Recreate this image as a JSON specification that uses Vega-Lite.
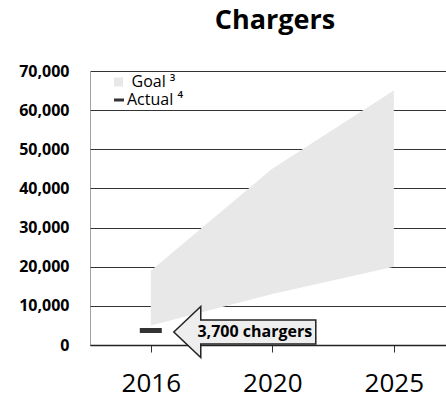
{
  "$schema": "https://vega.github.io/schema/vega-lite/v6.json",
  "autosize": {"type": "none"},
  "padding": {"left": 90, "top": 71, "right": 0, "bottom": 58},
  "width": 356,
  "height": 274,
  "title": {"text": "Chargers", "fontSize": 27, "fontWeight": "bold", "font": "Open Sans", "color": "#000", "anchor": "middle", "dx": 7, "offset": 28},
  "datasets": {
    "goal": [
      {"year": 2016, "low": 5000, "high": 19000},
      {"year": 2020, "low": 13000, "high": 45000},
      {"year": 2025, "low": 20000, "high": 65000}
    ],
    "actual": [
      {"year": 2016, "value": 3700, "label": "3,700 chargers"}
    ]
  },
  "config": {
    "view": {"stroke": null},
    "font": "Open Sans",
    "axisY": {"title": null, "labelExpr": "format(datum.value, ',.0f')", "labelFontSize": 16, "labelFontWeight": "bold", "labelColor": "#000", "labelFont": "Open Sans", "labelPadding": 21, "ticks": false, "domain": true, "domainDash": [1, 1], "domainColor": "#444", "gridColor": "#333", "gridWidth": 1, "gridOpacity": 1}
  },
  "encoding": {
    "x": {
      "field": "year", "type": "ordinal",
      "scale": {"type": "point", "padding": 0.465, "align": 0.538},
      "axis": {"title": null, "labelAngle": 0, "labelFontSize": 26, "labelColor": "#000", "labelFont": "Open Sans", "tickSize": 7, "tickColor": "#333", "domainColor": "#222", "domainWidth": 1.5, "labelPadding": 18, "grid": false}
    }
  },
  "layer": [
    {
      "data": {"name": "goal"},
      "mark": {"type": "area", "opacity": 1},
      "encoding": {
        "y": {
          "field": "high", "type": "quantitative",
          "scale": {"domain": [0, 70000], "nice": false},
          "axis": {"values": [0, 10000, 20000, 30000, 40000, 50000, 60000, 70000], "labelExpr": "format(datum.value, ',.0f')"}
        },
        "y2": {"field": "low"},
        "fill": {
          "datum": "Goal", "type": "nominal",
          "scale": {"domain": ["Goal"], "range": ["#e8e8e8"]},
          "legend": {
            "title": null,
            "orient": "none",
            "legendX": 20.5,
            "legendY": 3,
            "padding": 0,
            "symbolType": "square",
            "symbolSize": 81,
            "symbolStrokeWidth": 0,
            "labelOffset": 5,
            "labelFontSize": 16,
            "labelFont": "Open Sans",
            "labelColor": "#000",
            "labelExpr": "'Goal \u00b3'"
          }
        }
      }
    },
    {
      "data": {"name": "actual"},
      "mark": {"type": "tick", "size": 22, "thickness": 5, "opacity": 1},
      "encoding": {
        "y": {
          "field": "value", "type": "quantitative",
          "axis": {"values": [0, 10000, 20000, 30000, 40000, 50000, 60000, 70000], "labelExpr": "format(datum.value, ',.0f')"}
        },
        "color": {
          "datum": "Actual", "type": "nominal",
          "scale": {"domain": ["Actual"], "range": ["#333333"]},
          "legend": {
            "title": null,
            "orient": "none",
            "legendX": 21,
            "legendY": 21,
            "padding": 0,
            "symbolType": "M-1,-0.3H1V0.3H-1Z",
            "symbolSize": 100,
            "symbolStrokeWidth": 0,
            "symbolFillColor": "#222222",
            "symbolOpacity": 1,
            "labelOffset": 0,
            "labelFontSize": 16,
            "labelFont": "Open Sans",
            "labelColor": "#000",
            "labelExpr": "'Actual \u2074'"
          }
        }
      }
    },
    {
      "data": {"name": "actual"},
      "mark": {"type": "point", "shape": "M-1,0L-0.62,-0.36L-0.62,-0.17L1,-0.17L1,0.17L-0.62,0.17L-0.62,0.36Z", "size": 20164, "filled": true, "fill": "#eeeeee", "stroke": "#222222", "strokeWidth": 1.5, "opacity": 1, "xOffset": 94, "yOffset": 1.5},
      "encoding": {
        "y": {
          "field": "value", "type": "quantitative",
          "axis": {"values": [0, 10000, 20000, 30000, 40000, 50000, 60000, 70000], "labelExpr": "format(datum.value, ',.0f')"}
        }
      }
    },
    {
      "data": {"name": "actual"},
      "mark": {"type": "text", "font": "Open Sans", "fontSize": 16, "fontWeight": "bold", "color": "#000", "dx": 104, "dy": 1, "align": "center", "baseline": "middle"},
      "encoding": {
        "y": {
          "field": "value", "type": "quantitative",
          "axis": {"values": [0, 10000, 20000, 30000, 40000, 50000, 60000, 70000], "labelExpr": "format(datum.value, ',.0f')"}
        },
        "text": {"field": "label"}
      }
    }
  ]
}
